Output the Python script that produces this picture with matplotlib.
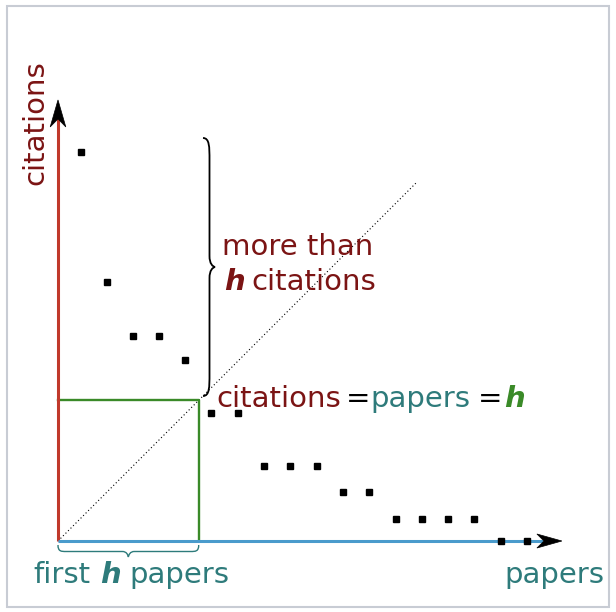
import numpy as np
import matplotlib
matplotlib.use("Agg")
import matplotlib.pyplot as plt
from matplotlib.path import Path
from matplotlib.patches import PathPatch, Polygon, Rectangle

# paper rank (x) and citation count (y) in grid units
papers = [0.87, 1.86, 2.85, 3.84, 4.83, 5.82, 6.84, 7.83, 8.82, 9.85,
          10.84, 11.83, 12.84, 13.83, 14.83, 15.82, 16.83, 17.85]
citations = [14.8, 9.85, 7.8, 7.8, 6.9, 4.85, 4.85, 2.85, 2.85, 2.85,
             1.85, 1.85, 0.84, 0.84, 0.84, 0.84, 0.0, 0.0]
h = 5.35
x_max = 19.16
y_max = 16.77
diag_end = 13.65

RED = '#c0392b'
DARKRED = '#7b1414'
BLUE = '#4a9bcc'
TEAL = '#2e7b7b'
GREEN = '#3a8a28'
FS = 21.0

U = 26.3  # pixels per unit
fig = plt.figure(figsize=(6.16, 6.12), dpi=100)
ax = fig.add_axes([0, 0, 1, 1])
ax.set_xlim(-58 / U, (616 - 58) / U)
ax.set_ylim(-(612 - 541) / U, 541 / U)
ax.axis('off')

# light frame
fig.patches.append(Rectangle((7 / 616, 5 / 612), 602 / 616, 601 / 612,
                             transform=fig.transFigure, fill=False,
                             ec='#c8ccd4', lw=1.5))


def arrow_head(tip, direction, length=27 / U, half=7.8 / U, notch=8 / U, color='k'):
    tx, ty = tip
    dx, dy = direction
    px, py = -dy, dx
    pts = [(tx, ty),
           (tx - dx * length + px * half, ty - dy * length + py * half),
           (tx - dx * (length - notch), ty - dy * (length - notch)),
           (tx - dx * length - px * half, ty - dy * length - py * half)]
    ax.add_patch(Polygon(pts, closed=True, fc=color, ec=color, lw=0.5, zorder=5))


# axes
ax.plot([0, 0], [0, y_max - 0.7], color=RED, lw=2.2, zorder=3, solid_capstyle='butt')
ax.plot([0, x_max - 0.7], [0, 0], color=BLUE, lw=2.2, zorder=3, solid_capstyle='butt')
arrow_head((0, y_max), (0, 1))
arrow_head((x_max, 0), (1, 0), length=25 / U, half=7 / U, notch=7 / U)

# diagonal
ax.plot([0, diag_end], [0, diag_end], color='k', lw=0.8, ls=(0, (1, 2.2)), zorder=2)

# h square
ax.plot([0, h, h], [h, h, 0], color=GREEN, lw=1.7, zorder=2)

# papers
ax.plot(papers, citations, 's', color='k', ms=5, zorder=6)


def vbrace(x0, yt, yb, a, tip, r, rt, **kw):
    ym = (yt + yb) / 2
    verts = [(x0, yt),
             (x0 + a, yt), (x0 + a, yt - r * 0.4), (x0 + a, yt - r),
             (x0 + a, ym + rt),
             (x0 + a, ym + rt * 0.3), (x0 + tip * 0.8, ym + 0.02), (x0 + tip, ym),
             (x0 + tip * 0.8, ym - 0.02), (x0 + a, ym - rt * 0.3), (x0 + a, ym - rt),
             (x0 + a, yb + r),
             (x0 + a, yb + r * 0.4), (x0 + a, yb), (x0, yb)]
    codes = [Path.MOVETO] + [Path.CURVE4] * 3 + [Path.LINETO] + [Path.CURVE4] * 6 + \
            [Path.LINETO] + [Path.CURVE4] * 3
    ax.add_patch(PathPatch(Path(verts, codes), fill=False, **kw))


def hbrace(xl, xr, y0, a, tip, r, rt, **kw):
    xm = (xl + xr) / 2
    verts = [(xl, y0),
             (xl, y0 - a), (xl + r * 0.4, y0 - a), (xl + r, y0 - a),
             (xm - rt, y0 - a),
             (xm - rt * 0.3, y0 - a), (xm - 0.02, y0 - tip * 0.8), (xm, y0 - tip),
             (xm + 0.02, y0 - tip * 0.8), (xm + rt * 0.3, y0 - a), (xm + rt, y0 - a),
             (xr - r, y0 - a),
             (xr - r * 0.4, y0 - a), (xr, y0 - a), (xr, y0)]
    codes = [Path.MOVETO] + [Path.CURVE4] * 3 + [Path.LINETO] + [Path.CURVE4] * 6 + \
            [Path.LINETO] + [Path.CURVE4] * 3
    ax.add_patch(PathPatch(Path(verts, codes), fill=False, **kw))


vbrace(145 / U, (541 - 138) / U, (541 - 396) / U, 6.5 / U, 12 / U, 22 / U, 11 / U,
       ec='k', lw=1.3, zorder=4)
hbrace(0, h, -4 / U, 6.5 / U, 12 / U, 8 / U, 6 / U, ec=TEAL, lw=1.0, zorder=4)

# labels
ax.text(-0.875, 15.89, 'citations', rotation=90, ha='center', va='center',
        color=DARKRED, fontsize=FS)
ax.text(6.25, 10.87, 'more than', color=DARKRED, fontsize=FS, va='baseline')
ax.text(6.3, 9.54, 'h', color=DARKRED, fontsize=FS, va='baseline',
        weight='bold', style='italic')
ax.text(7.36, 9.54, 'citations', color=DARKRED, fontsize=FS, va='baseline')

yrow = 5.095
ax.text(6.02, yrow, 'citations', color=DARKRED, fontsize=FS, va='baseline')
ax.text(10.93, yrow, '=', color='k', fontsize=FS, va='baseline')
ax.text(11.87, yrow, 'papers', color=TEAL, fontsize=FS, va='baseline')
ax.text(15.96, yrow, '=', color='k', fontsize=FS, va='baseline')
ax.text(16.95, yrow, 'h', color=GREEN, fontsize=FS, va='baseline',
        weight='bold', style='italic')

ybot = -1.6
ax.text(-0.92, ybot, 'first', color=TEAL, fontsize=FS, va='baseline')
ax.text(1.62, ybot, 'h', color=TEAL, fontsize=FS, va='baseline',
        weight='bold', style='italic')
ax.text(2.72, ybot, 'papers', color=TEAL, fontsize=FS, va='baseline')
ax.text(16.97, ybot, 'papers', color=TEAL, fontsize=FS, va='baseline')

fig.savefig('out.png', dpi=100)
